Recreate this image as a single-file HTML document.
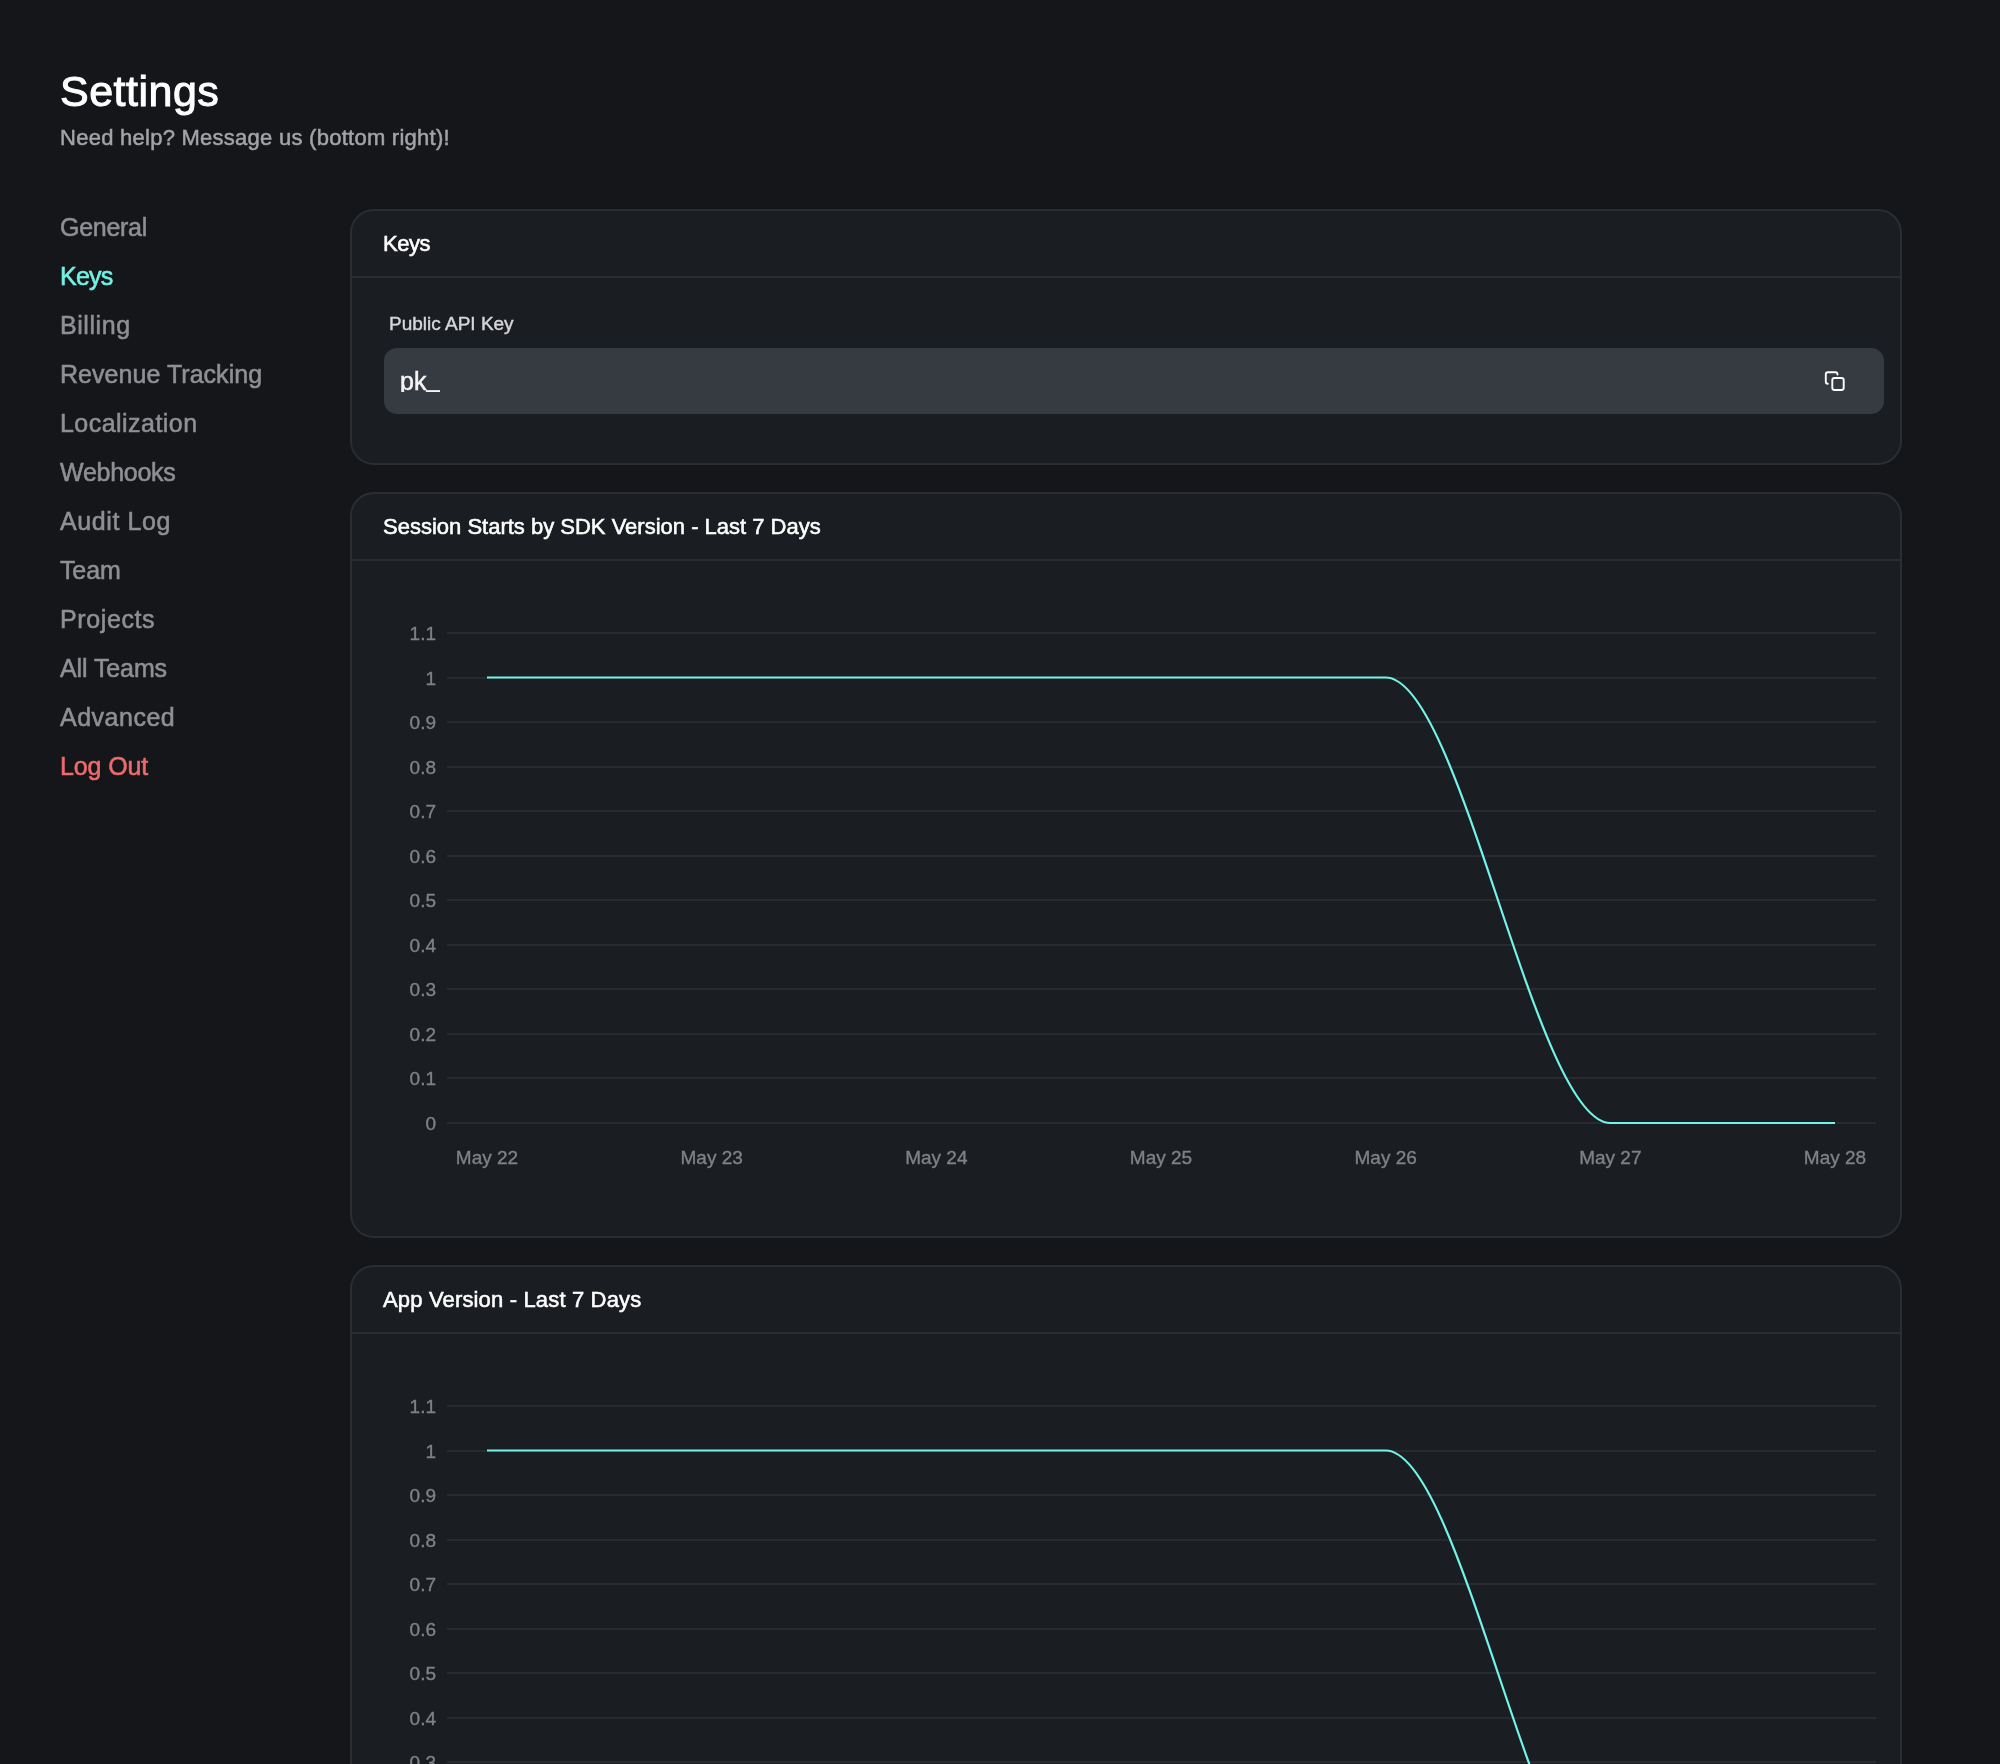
<!DOCTYPE html>
<html lang="en">
<head>
<meta charset="utf-8">
<title>Settings</title>
<style>
html,body{margin:0;padding:0;}
body{will-change:transform;width:2000px;height:1764px;overflow:hidden;background:#14161a;font-family:"Liberation Sans",Arial,sans-serif;position:relative;color:#fff;}
.abs{position:absolute;white-space:nowrap;line-height:1;}
h1{position:absolute;margin:0;left:60px;top:70px;font-size:43px;font-weight:400;color:#fff;line-height:1;letter-spacing:0.5px;-webkit-text-stroke:1px #fff;}
.sub{left:60px;top:127px;font-size:22px;color:#a3a3a8;letter-spacing:0.26px;-webkit-text-stroke:0.5px #a3a3a8;}
.nav a{position:absolute;left:60px;font-size:25px;color:#8f8f94;text-decoration:none;white-space:nowrap;line-height:1;-webkit-text-stroke:0.55px #8f8f94;}
.nav a.on{color:#70f3e6;-webkit-text-stroke:0.55px #70f3e6;}
.nav a.out{color:#f06a6c;-webkit-text-stroke:0.55px #f06a6c;}
.card{position:absolute;left:350px;width:1552px;background:#1a1d21;border:2px solid #2a2d32;border-radius:24px;box-sizing:border-box;}
.card .hd{position:absolute;left:0;right:0;top:0;height:67px;border-bottom:2px solid #2a2d32;box-sizing:border-box;}
.card .ttl{position:absolute;left:31px;font-size:22px;color:#fff;white-space:nowrap;line-height:1;-webkit-text-stroke:0.55px #fff;}
.lbl{position:absolute;font-size:19px;color:#d6d6da;white-space:nowrap;line-height:1;-webkit-text-stroke:0.45px #d6d6da;}
.inp{position:absolute;left:32px;right:16px;height:66px;background:#363a41;border-radius:13px;}
.inp .v{position:absolute;left:16px;top:21px;height:23px;overflow:hidden;font-size:25px;color:#f5f5f5;line-height:1;-webkit-text-stroke:0.5px #f5f5f5;}
svg text{font-family:"Liberation Sans",Arial,sans-serif;}
@media (max-width:1200px){html{zoom:0.5;}}
.chart .yl text{font-size:19px;fill:#818286;}
.chart .xl text{font-size:19px;fill:#818286;}
</style>
</head>
<body>
<h1>Settings</h1>
<div class="abs sub">Need help? Message us (bottom right)!</div>

<nav class="nav">
<a style="top:215px;letter-spacing:-0.28px">General</a>
<a class="on" style="top:264px;letter-spacing:-0.77px">Keys</a>
<a style="top:313px;letter-spacing:0.57px">Billing</a>
<a style="top:362px;letter-spacing:0.04px">Revenue Tracking</a>
<a style="top:411px;letter-spacing:0.46px">Localization</a>
<a style="top:460px;letter-spacing:-0.26px">Webhooks</a>
<a style="top:509px;letter-spacing:0.59px">Audit Log</a>
<a style="top:558px;letter-spacing:-0.13px">Team</a>
<a style="top:607px;letter-spacing:0.61px">Projects</a>
<a style="top:656px;letter-spacing:-0.10px">All Teams</a>
<a style="top:705px;letter-spacing:0.50px">Advanced</a>
<a class="out" style="top:754px;letter-spacing:-0.12px">Log Out</a>
</nav>

<!-- Keys card -->
<div class="card" style="top:209px;height:256px;">
  <div class="hd" style="height:67px"><div class="ttl" style="top:22px;letter-spacing:-0.5px">Keys</div></div>
  <div class="lbl" style="left:37px;top:103px">Public API Key</div>
  <div class="inp" style="top:137px;">
    <div class="v">pk<span style="position:relative;top:-3px">_</span></div>
  </div>
</div>

<svg style="position:absolute;left:1823px;top:369px" width="24" height="24" viewBox="0 0 24 24" fill="none" stroke="#fff" stroke-width="1.9" stroke-linecap="round" stroke-linejoin="round"><rect x="9.3" y="9" width="11.4" height="12" rx="2.2"/><path d="M4.8 14.8A2 2 0 0 1 2.8 12.8V5.3A2 2 0 0 1 4.8 3.3H12.5A2 2 0 0 1 14.5 5.3V5.6"/></svg>
<div class="card" id="c2" style="top:492px;height:746px;">
  <div class="hd"><div class="ttl" style="top:22px">Session Starts by SDK Version - Last 7 Days</div></div>
</div>
<svg class="chart" style="position:absolute;left:350px;top:492px" width="1552" height="745" viewBox="0 0 1552 745">
<g stroke="#282a2f" stroke-width="2">
<line x1="97" y1="141.0" x2="1526" y2="141.0"/>
<line x1="97" y1="186.0" x2="1526" y2="186.0"/>
<line x1="97" y1="230.0" x2="1526" y2="230.0"/>
<line x1="97" y1="275.0" x2="1526" y2="275.0"/>
<line x1="97" y1="319.0" x2="1526" y2="319.0"/>
<line x1="97" y1="364.0" x2="1526" y2="364.0"/>
<line x1="97" y1="408.0" x2="1526" y2="408.0"/>
<line x1="97" y1="453.0" x2="1526" y2="453.0"/>
<line x1="97" y1="497.0" x2="1526" y2="497.0"/>
<line x1="97" y1="542.0" x2="1526" y2="542.0"/>
<line x1="97" y1="586.0" x2="1526" y2="586.0"/>
<line x1="97" y1="631.0" x2="1526" y2="631.0"/>
</g>
<g class="yl" text-anchor="end" stroke="#818286" stroke-width="0.35">
<text x="86" y="148.0">1.1</text>
<text x="86" y="193.0">1</text>
<text x="86" y="237.0">0.9</text>
<text x="86" y="282.0">0.8</text>
<text x="86" y="326.0">0.7</text>
<text x="86" y="371.0">0.6</text>
<text x="86" y="415.0">0.5</text>
<text x="86" y="460.0">0.4</text>
<text x="86" y="504.0">0.3</text>
<text x="86" y="549.0">0.2</text>
<text x="86" y="593.0">0.1</text>
<text x="86" y="638.0">0</text>
</g>
<g class="xl" text-anchor="middle" stroke="#818286" stroke-width="0.35">
<text x="137.0" y="672">May 22</text>
<text x="361.7" y="672">May 23</text>
<text x="586.3" y="672">May 24</text>
<text x="811.0" y="672">May 25</text>
<text x="1035.7" y="672">May 26</text>
<text x="1260.3" y="672">May 27</text>
<text x="1485.0" y="672">May 28</text>
</g>
<path d="M137.0,185.5L1035.7,185.5C1110.6,185.5 1185.4,631.0 1260.3,631.0L1485.0,631.0" fill="none" stroke="#72f5e8" stroke-width="2.2" stroke-linejoin="round"/>
</svg>
<div class="card" id="c3" style="top:1265px;height:746px;">
  <div class="hd"><div class="ttl" style="top:22px;letter-spacing:0.16px">App Version - Last 7 Days</div></div>
</div>
<svg class="chart" style="position:absolute;left:350px;top:1265px" width="1552" height="745" viewBox="0 0 1552 745">
<g stroke="#282a2f" stroke-width="2">
<line x1="97" y1="141.0" x2="1526" y2="141.0"/>
<line x1="97" y1="186.0" x2="1526" y2="186.0"/>
<line x1="97" y1="230.0" x2="1526" y2="230.0"/>
<line x1="97" y1="275.0" x2="1526" y2="275.0"/>
<line x1="97" y1="319.0" x2="1526" y2="319.0"/>
<line x1="97" y1="364.0" x2="1526" y2="364.0"/>
<line x1="97" y1="408.0" x2="1526" y2="408.0"/>
<line x1="97" y1="453.0" x2="1526" y2="453.0"/>
<line x1="97" y1="497.0" x2="1526" y2="497.0"/>
<line x1="97" y1="542.0" x2="1526" y2="542.0"/>
<line x1="97" y1="586.0" x2="1526" y2="586.0"/>
<line x1="97" y1="631.0" x2="1526" y2="631.0"/>
</g>
<g class="yl" text-anchor="end" stroke="#818286" stroke-width="0.35">
<text x="86" y="148.0">1.1</text>
<text x="86" y="193.0">1</text>
<text x="86" y="237.0">0.9</text>
<text x="86" y="282.0">0.8</text>
<text x="86" y="326.0">0.7</text>
<text x="86" y="371.0">0.6</text>
<text x="86" y="415.0">0.5</text>
<text x="86" y="460.0">0.4</text>
<text x="86" y="504.0">0.3</text>
<text x="86" y="549.0">0.2</text>
<text x="86" y="593.0">0.1</text>
<text x="86" y="638.0">0</text>
</g>
<g class="xl" text-anchor="middle" stroke="#818286" stroke-width="0.35">
<text x="137.0" y="672">May 22</text>
<text x="361.7" y="672">May 23</text>
<text x="586.3" y="672">May 24</text>
<text x="811.0" y="672">May 25</text>
<text x="1035.7" y="672">May 26</text>
<text x="1260.3" y="672">May 27</text>
<text x="1485.0" y="672">May 28</text>
</g>
<path d="M137.0,185.5L1035.7,185.5C1110.6,185.5 1185.4,631.0 1260.3,631.0L1485.0,631.0" fill="none" stroke="#72f5e8" stroke-width="2.2" stroke-linejoin="round"/>
</svg>
</body>
</html>
